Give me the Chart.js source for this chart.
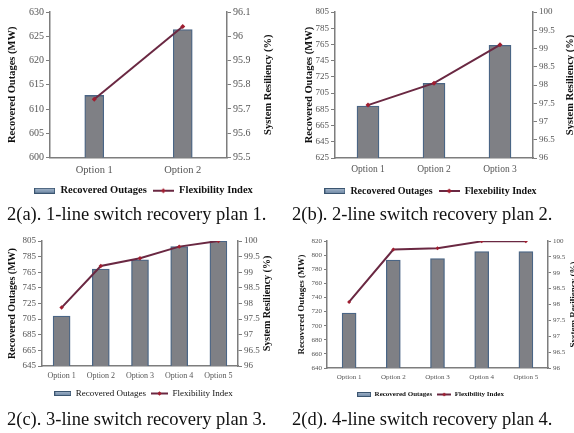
<!DOCTYPE html>
<html><head><meta charset="utf-8">
<script src="https://cdn.jsdelivr.net/npm/chart.js@4"></script>
<style>
body{margin:0;background:#fff;width:574px;height:433px;overflow:hidden;position:relative;font-family:"Liberation Serif","Times New Roman",serif}
.box{position:absolute}
.cap{position:absolute;font-size:18.5px;color:#111;white-space:nowrap;line-height:20px}
</style></head><body>
<div class="box" id="ba" style="left:0;top:0;width:287px;height:210px"><canvas id="ca"></canvas></div>
<div class="box" id="bb" style="left:287px;top:0;width:287px;height:210px"><canvas id="cb"></canvas></div>
<div class="box" id="bc" style="left:0;top:225px;width:287px;height:185px"><canvas id="cc"></canvas></div>
<div class="box" id="bd" style="left:287px;top:225px;width:287px;height:185px"><canvas id="cd"></canvas></div>
<div class="cap" style="left:7px;top:204px">2(a). 1-line switch recovery plan 1.</div>
<div class="cap" style="left:292px;top:204px">2(b). 2-line switch recovery plan 2.</div>
<div class="cap" style="left:7px;top:409px">2(c). 3-line switch recovery plan 3.</div>
<div class="cap" style="left:292px;top:409px">2(d). 4-line switch recovery plan 4.</div>
<script>
// ---- data ----
const categoriesA = ['Option 1', 'Option 2'];
const outagesA = [612.8, 626.4];
const resiliencyA = [95.74, 96.04];
const outagesRangeA = [600, 630, 5];
const resiliencyRangeA = [95.5, 96.1, 0.1];

const categoriesB = ['Option 1', 'Option 2', 'Option 3'];
const outagesB = [689, 717, 764];
const resiliencyB = [97.45, 98.05, 99.1];
const outagesRangeB = [625, 805, 20];
const resiliencyRangeB = [96, 100, 0.5];

const categoriesC = ['Option 1', 'Option 2', 'Option 3', 'Option 4', 'Option 5'];
const outagesC = [709, 769, 781, 798, 805];
const resiliencyC = [97.87, 99.2, 99.45, 99.82, 100];
const outagesRangeC = [645, 805, 20];
const resiliencyRangeC = [96, 100, 0.5];

const categoriesD = ['Option 1', 'Option 2', 'Option 3', 'Option 4', 'Option 5'];
const outagesD = [718, 793, 795, 805, 805];
const resiliencyD = [98.08, 99.73, 99.77, 99.99, 99.99];
const outagesRangeD = [640, 820, 20];
const resiliencyRangeD = [96, 100, 0.5];

const barLabel = 'Recovered Outages';
const leftTitle = 'Recovered Outages (MW)';
const rightTitle = 'System Resiliency (%)';

// ---- helpers ----
const SERIF = '"Liberation Serif", "Times New Roman", serif';
const BAR_FILL = '#7f8085', BAR_EDGE = '#4a6585';
const LINE_COL = '#6a2842', PT_COL = '#a01e30';
const AXIS_COL = '#7d7d7d';

function barSwatch(w, h) {
  const c = document.createElement('canvas'); c.width = w; c.height = h;
  const x = c.getContext('2d');
  const g = x.createLinearGradient(0, 0, 0, h);
  g.addColorStop(0, '#a6b8cc'); g.addColorStop(1, '#6a84a2');
  x.fillStyle = g; x.fillRect(0.5, 0.5, w - 1, h - 1);
  x.strokeStyle = '#3b5570'; x.lineWidth = 1; x.strokeRect(0.5, 0.5, w - 1, h - 1);
  return c;
}
function lineSwatch(w, h, r) {
  const c = document.createElement('canvas'); c.width = w; c.height = h;
  const x = c.getContext('2d');
  x.strokeStyle = LINE_COL; x.lineWidth = 2;
  x.beginPath(); x.moveTo(0, h / 2); x.lineTo(w, h / 2); x.stroke();
  x.fillStyle = PT_COL; x.beginPath();
  x.moveTo(w / 2, h / 2 - r); x.lineTo(w / 2 + r, h / 2); x.lineTo(w / 2, h / 2 + r); x.lineTo(w / 2 - r, h / 2);
  x.closePath(); x.fill();
  return c;
}

const titlePlugin = {
  id: 'sideTitles',
  afterDraw(chart, args, opts) {
    const ctx = chart.ctx, ca = chart.chartArea;
    (opts.items || []).forEach(t => {
      ctx.save();
      ctx.translate(t.x, (ca.top + ca.bottom) / 2);
      ctx.rotate(-Math.PI / 2);
      ctx.font = t.font; ctx.fillStyle = '#111';
      ctx.textAlign = 'center'; ctx.textBaseline = 'middle';
      ctx.fillText(t.text, 0, 0);
      ctx.restore();
    });
  }
};

function fmt(v) { return String(+v.toFixed(2)); }

function makeChart(id, cats, bars, line, lr, rr, lineName, s) {
  new Chart(document.getElementById(id), {
    data: {
      labels: cats,
      datasets: [
        { type: 'bar', label: barLabel, data: bars, yAxisID: 'y', order: 1,
          backgroundColor: BAR_FILL, borderColor: BAR_EDGE, borderWidth: 1.3,
          barThickness: s.barW },
        { type: 'line', label: lineName, data: line, yAxisID: 'y1', order: 0,
          borderColor: LINE_COL, borderWidth: 2, tension: 0,
          pointStyle: 'rectRot', pointRadius: s.pt, pointBackgroundColor: PT_COL, pointBorderColor: PT_COL, pointBorderWidth: 0 }
      ]
    },
    options: {
      responsive: true, maintainAspectRatio: false, animation: false,
      layout: { padding: { top: s.padTop, left: 0, right: 0, bottom: s.padBottom } },
      plugins: {
        tooltip: { enabled: false },
        legend: {
          position: 'bottom',
          labels: {
            usePointStyle: true, pointStyleWidth: s.swW, padding: s.legPad,
            font: { family: SERIF, size: s.legFont, weight: s.legWeight }, color: '#111',
            generateLabels: () => [
              { text: barLabel, pointStyle: barSwatch(s.swW, s.swH), fillStyle: 'rgba(0,0,0,0)', strokeStyle: 'rgba(0,0,0,0)', lineWidth: 0, datasetIndex: 0, fontColor: '#111' },
              { text: lineName, pointStyle: lineSwatch(s.swW, s.swH + 2, s.pt), fillStyle: 'rgba(0,0,0,0)', strokeStyle: 'rgba(0,0,0,0)', lineWidth: 0, datasetIndex: 1, fontColor: '#111' }
            ]
          }
        },
        sideTitles: { items: [
          { text: leftTitle, x: s.ltX, font: 'bold ' + s.titleFont + 'px ' + SERIF },
          { text: rightTitle, x: s.rtX, font: 'bold ' + s.titleFont + 'px ' + SERIF }
        ] }
      },
      scales: {
        x: {
          grid: { display: false, drawTicks: false },
          border: { display: true, color: AXIS_COL, width: 1.5 },
          ticks: { font: { family: SERIF, size: s.xFont }, color: '#555', padding: s.xPad, maxRotation: 0 },
          afterFit: sc => { sc.height = s.xH; }
        },
        y: {
          position: 'left', min: lr[0], max: lr[1],
          grid: { drawOnChartArea: false, drawTicks: true, tickLength: s.tl, color: AXIS_COL },
          border: { display: true, color: AXIS_COL, width: 1.5 },
          ticks: { stepSize: lr[2], font: { family: SERIF, size: s.yFont }, color: '#555', padding: 2, callback: fmt },
          afterFit: sc => { sc.width = s.lw; }
        },
        y1: {
          position: 'right', min: rr[0], max: rr[1],
          grid: { drawOnChartArea: false, drawTicks: true, tickLength: s.tl, color: AXIS_COL },
          border: { display: true, color: AXIS_COL, width: 1.5 },
          ticks: { stepSize: rr[2], font: { family: SERIF, size: s.yFont }, color: '#555', padding: 2, callback: fmt },
          afterFit: sc => { sc.width = s.rw; }
        }
      }
    },
    plugins: [titlePlugin]
  });
}

function build() {
  makeChart('ca', categoriesA, outagesA, resiliencyA, outagesRangeA, resiliencyRangeA, 'Flexibility Index',
    { barW: 19, pt: 2.5, padTop: 12, padBottom: 4, swW: 21, swH: 6, legPad: 6, legFont: 10.5, legWeight: 'bold',
      ltX: 12, rtX: 268, titleFont: 10.5, xFont: 10.5, xPad: 6, xH: 22, yFont: 10, tl: 4, lw: 50, rw: 60 });
  makeChart('cb', categoriesB, outagesB, resiliencyB, outagesRangeB, resiliencyRangeB, 'Flexebility Index',
    { barW: 22, pt: 2.5, padTop: 12, padBottom: 4, swW: 21, swH: 6, legPad: 6, legFont: 10, legWeight: 'bold',
      ltX: 22, rtX: 283, titleFont: 10.5, xFont: 9.5, xPad: 6, xH: 22, yFont: 9, tl: 4, lw: 48, rw: 41 });
  makeChart('cc', categoriesC, outagesC, resiliencyC, outagesRangeC, resiliencyRangeC, 'Flexibility Index',
    { barW: 17, pt: 2.2, padTop: 16, padBottom: 2, swW: 17, swH: 5, legPad: 5, legFont: 9, legWeight: 'normal',
      ltX: 12, rtX: 267, titleFont: 10, xFont: 8, xPad: 5, xH: 18, yFont: 9, tl: 4, lw: 42, rw: 49 });
  makeChart('cd', categoriesD, outagesD, resiliencyD, outagesRangeD, resiliencyRangeD, 'Flexibility Index',
    { barW: 14, pt: 2, padTop: 16, padBottom: 2, swW: 14, swH: 5, legPad: 5, legFont: 7, legWeight: 'bold',
      ltX: 15, rtX: 287, titleFont: 9, xFont: 7, xPad: 5, xH: 18, yFont: 7, tl: 3, lw: 40, rw: 26 });
}

Promise.all([
  document.fonts.load('10px "Liberation Serif"'),
  document.fonts.load('bold 10px "Liberation Serif"')
]).then(build, build);
</script>
</body></html>
